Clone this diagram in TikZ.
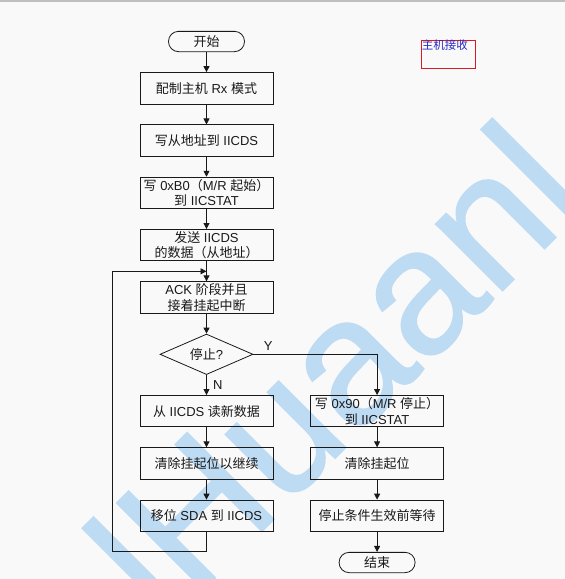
\documentclass[tikz,border=0pt]{standalone}
\usepackage{fontspec}
\setmainfont{Liberation Sans}
\newfontfamily\zh{Noto Sans CJK SC}
\newfontfamily\markfont[FakeBold=1]{Liberation Sans}
\usepackage{tikz}
\usetikzlibrary{arrows.meta,positioning,shapes.geometric,calc}
\definecolor{wmblue}{RGB}{190,219,244}
\definecolor{tagred}{RGB}{215,25,40}
\definecolor{tagblue}{RGB}{40,40,200}
\definecolor{pagebg}{RGB}{249,249,249}
\definecolor{ink}{RGB}{25,25,25}
\tikzset{
  stepbox/.style={draw=ink, line width=0.8pt, minimum width=133pt, minimum height=31.4pt,
    align=center, inner sep=0pt, text=ink, font=\fontsize{13}{15.5}\selectfont},
  endbox/.style={draw=ink, line width=0.8pt, rounded corners=10pt, minimum width=76pt,
    minimum height=20.3pt, inner sep=0pt, text=ink, font=\fontsize{13}{15.5}\selectfont},
  testbox/.style={diamond, aspect=2.3, draw=ink, line width=0.8pt, minimum width=93pt,
    minimum height=40.5pt, inner sep=0pt, text=ink, font=\fontsize{13}{15.5}\selectfont},
  flow/.style={-{Triangle[length=6pt,width=6pt]}, line width=0.8pt, draw=ink},
  branch/.style={text=ink, font=\fontsize{13}{15.5}\selectfont}
}

\begin{document}
\begin{tikzpicture}[x=1pt, y=-1pt, node distance=20.1pt and 36.8pt]
\useasboundingbox (0,0) rectangle (565,579);
\clip (0,0) rectangle (565,579);
\fill[pagebg] (0,0) rectangle (565,579);
\draw[gray!50, line width=1.5pt] (0,0.75) -- (565,0.75);

% watermark
\node[text=wmblue, rotate=45, anchor=base west, inner sep=0pt,
  font=\markfont\fontsize{178}{178}\selectfont] (mark) at (165,628) {lHuaanl};

\node[endbox] (start) at (206.5,41.5) {{\zh 开始}};
\node[stepbox, below=of start] (cfg) {{\zh 配制主机} Rx {\zh 模式}};
\node[stepbox, below=of cfg] (addr) {{\zh 写从地址到} IICDS};
\node[stepbox, below=of addr] (wrb0) {{\zh 写} 0xB0{\zh （}M/R {\zh 起始）}\\{\zh 到} IICSTAT};
\node[stepbox, below=of wrb0] (send) {{\zh 发送} IICDS\\{\zh 的数据（从地址）}};
\node[stepbox, below=of send] (ack) {ACK {\zh 阶段并且}\\{\zh 接着挂起中断}};
\node[testbox, below=of ack] (stop) {{\zh 停止}?};
\node[stepbox, below=of stop] (read) {{\zh 从} IICDS {\zh 读新数据}};
\node[stepbox, below=of read] (clr) {{\zh 清除挂起位以继续}};
\node[stepbox, below=of clr] (move) {{\zh 移位} SDA {\zh 到} IICDS};

\node[stepbox, right=of read] (wr90) {{\zh 写} 0x90{\zh （}M/R {\zh 停止）}\\{\zh 到} IICSTAT};
\node[stepbox, below=of wr90] (clr2) {{\zh 清除挂起位}};
\node[stepbox, below=of clr2] (wait) {{\zh 停止条件生效前等待}};
\node[endbox, below=of wait] (end) {{\zh 结束}};

\node[draw=tagred, line width=0.8pt, minimum width=54pt, minimum height=28.8pt, inner sep=0pt] (tag) at (448.6,54.3) {};
\node[anchor=north west, inner sep=0.5pt, text=tagblue, font=\zh\fontsize{11.5}{12}\selectfont] (tagtext) at (tag.north west) {主机接收};

\coordinate (loop) at ($(send.south)!0.5!(ack.north)$);

\draw[flow] (start) -- (cfg);
\draw[flow] (cfg) -- (addr);
\draw[flow] (addr) -- (wrb0);
\draw[flow] (wrb0) -- (send);
\draw[flow] (send) -- (ack);
\draw[flow] (ack) -- (stop);
\draw[flow] (stop) -- node[branch, right, xshift=3pt] {N} (read);
\draw[flow] (read) -- (clr);
\draw[flow] (clr) -- (move);
\draw[flow] (move.south) -- ++(0,20) -| ($(loop)+(-94.5,0)$) -- (loop);
\draw[flow] (stop.east) -| node[branch, pos=0.06, above] {Y} (wr90.north);
\draw[flow] (wr90) -- (clr2);
\draw[flow] (clr2) -- (wait);
\draw[flow] (wait) -- (end);
\end{tikzpicture}
\end{document}
